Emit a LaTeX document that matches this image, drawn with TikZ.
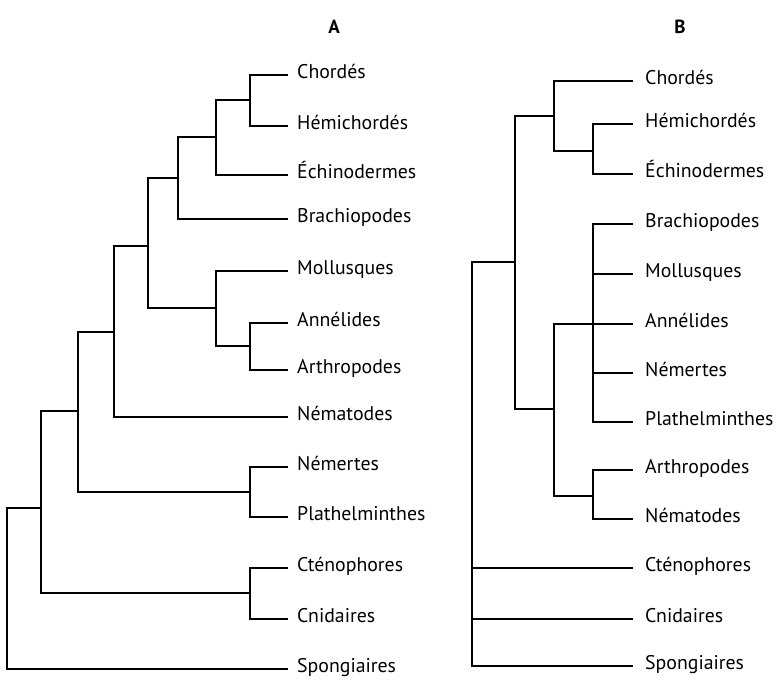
\documentclass[tikz,border=0pt]{standalone}
\usepackage{fontspec}
\setmainfont{PT Sans}
\begin{document}
\begin{tikzpicture}[x=1pt,y=-1pt,
  br/.style={line width=1.4pt,line cap=rect},
  leafA/.style={anchor=west,inner xsep=10pt,inner ysep=0pt,text height=0.7em,text depth=0pt,font=\fontsize{19.8}{22}\selectfont},
  leafB/.style={leafA,inner xsep=13pt},
  ttl/.style={font=\fontsize{19}{22}\selectfont\bfseries}]
\useasboundingbox (0,0) rectangle (781,680);
\node[ttl] (tA) at (334,27) {A};
\node[ttl] (tB) at (680,27) {B};
% ---------- Tree A ----------
\node[leafA] (ach) at (287,75) {Chordés};
\node[leafA] (ahe) at (287,126) {Hémichordés};
\node[leafA] (aec) at (287,175) {Échinodermes};
\node[leafA] (abr) at (287,219) {Brachiopodes};
\node[leafA] (amo) at (287,271) {Mollusques};
\node[leafA] (aan) at (287,323) {Annélides};
\node[leafA] (aar) at (287,370) {Arthropodes};
\node[leafA] (anm) at (287,417) {Nématodes};
\node[leafA] (ane) at (287,467) {Némertes};
\node[leafA] (apl) at (287,517) {Plathelminthes};
\node[leafA] (act) at (287,568) {Cténophores};
\node[leafA] (acn) at (287,619) {Cnidaires};
\node[leafA] (asp) at (287,669) {Spongiaires};
\coordinate (a1) at (250,100);
\coordinate (a2) at (216,137);
\coordinate (a3) at (178,178);
\coordinate (a4) at (250,346);
\coordinate (a5) at (216,308);
\coordinate (a6) at (148,246);
\coordinate (a7) at (114,332);
\coordinate (a8) at (250,492);
\coordinate (a9) at (78,411);
\coordinate (a10) at (250,593);
\coordinate (a11) at (41,508);
\coordinate (a12) at (7,589);
\draw[br] (a1) |- (ach.west) (a1) |- (ahe.west);
\draw[br] (a2) |- (a1) (a2) |- (aec.west);
\draw[br] (a3) |- (a2) (a3) |- (abr.west);
\draw[br] (a4) |- (aan.west) (a4) |- (aar.west);
\draw[br] (a5) |- (amo.west) (a5) |- (a4);
\draw[br] (a6) |- (a3) (a6) |- (a5);
\draw[br] (a7) |- (a6) (a7) |- (anm.west);
\draw[br] (a8) |- (ane.west) (a8) |- (apl.west);
\draw[br] (a9) |- (a7) (a9) |- (a8);
\draw[br] (a10) |- (act.west) (a10) |- (acn.west);
\draw[br] (a11) |- (a9) (a11) |- (a10);
\draw[br] (a12) |- (a11) (a12) |- (asp.west);
% ---------- Tree B ----------
\node[leafB] (bch) at (632,81) {Chordés};
\node[leafB] (bhe) at (632,124) {Hémichordés};
\node[leafB] (bec) at (632,174) {Échinodermes};
\node[leafB] (bbr) at (632,224) {Brachiopodes};
\node[leafB] (bmo) at (632,274) {Mollusques};
\node[leafB] (ban) at (632,324) {Annélides};
\node[leafB] (bne) at (632,373) {Némertes};
\node[leafB] (bpl) at (632,422) {Plathelminthes};
\node[leafB] (bar) at (632,470) {Arthropodes};
\node[leafB] (bnm) at (632,519) {Nématodes};
\node[leafB] (bct) at (632,568) {Cténophores};
\node[leafB] (bcn) at (632,619) {Cnidaires};
\node[leafB] (bsp) at (632,666) {Spongiaires};
\coordinate (b1) at (593,151);
\coordinate (b2) at (554,116);
\coordinate (b3) at (593,324);
\coordinate (b4) at (593,496);
\coordinate (b5) at (554,409);
\coordinate (b6) at (515,262);
\coordinate (b7) at (472,262);
\draw[br] (b1) |- (bhe.west) (b1) |- (bec.west);
\draw[br] (b2) |- (bch.west) (b2) |- (b1);
\draw[br] (b3) |- (bbr.west) (b3) |- (bmo.west) (b3) -- (ban.west) (b3) |- (bne.west) (b3) |- (bpl.west);
\draw[br] (b4) |- (bar.west) (b4) |- (bnm.west);
\draw[br] (b5) |- (b3) (b5) |- (b4);
\draw[br] (b6) |- (b2) (b6) |- (b5);
\draw[br] (b7) -- (b6) (b7) |- (bct.west) (b7) |- (bcn.west) (b7) |- (bsp.west);
\end{tikzpicture}
\end{document}
